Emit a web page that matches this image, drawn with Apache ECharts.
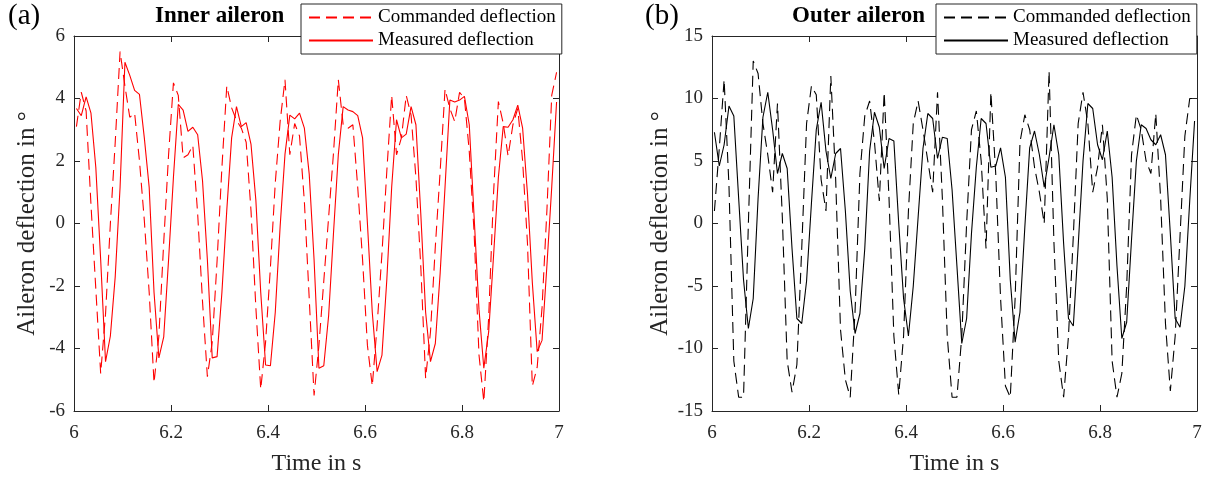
<!DOCTYPE html>
<html>
<head>
<meta charset="utf-8">
<script src="https://cdn.jsdelivr.net/npm/echarts@6/dist/echarts.min.js"></script>
<style>
html,body{margin:0;padding:0;background:#fff;}
#chart{width:1205px;height:481px;}
</style>
</head>
<body>
<div id="chart"></div>
<script>
// Sample times (s)
var time = [6.005,6.015,6.025,6.035,6.045,6.055,6.065,6.075,6.085,6.095,
  6.105,6.115,6.125,6.135,6.145,6.155,6.165,6.175,6.185,6.195,
  6.205,6.215,6.225,6.235,6.245,6.255,6.265,6.275,6.285,6.295,
  6.305,6.315,6.325,6.335,6.345,6.355,6.365,6.375,6.385,6.395,
  6.405,6.415,6.425,6.435,6.445,6.455,6.465,6.475,6.485,6.495,
  6.505,6.515,6.525,6.535,6.545,6.555,6.565,6.575,6.585,6.595,
  6.605,6.615,6.625,6.635,6.645,6.655,6.665,6.675,6.685,6.695,
  6.705,6.715,6.725,6.735,6.745,6.755,6.765,6.775,6.785,6.795,
  6.805,6.815,6.825,6.835,6.845,6.855,6.865,6.875,6.885,6.895,
  6.905,6.915,6.925,6.935,6.945,6.955,6.965,6.975,6.985,6.995];

// (a) Inner aileron (deg)
var innerCommanded = [3.1,4.2,3.6,0.6,-2.1,-4.8,-2.9,0.0,2.6,5.5,
  4.4,3.4,3.53,2.0,0.1,-2.2,-5.1,-3.6,-0.6,2.2,
  4.5,4.1,2.1,2.2,2.5,0.3,-2.5,-4.9,-3.8,-1.2,
  1.8,4.4,3.7,3.3,3.05,2.6,0.4,-2.7,-5.3,-3.8,
  -1.4,1.3,3.26,4.6,2.2,3.2,2.8,0.7,-2.4,-5.5,
  -3.9,-1.85,0.2,2.25,4.6,3.16,3.05,3.16,1.16,-1.16,
  -3.9,-5.2,-3.26,-0.95,1.68,4.1,2.2,2.74,4.1,3.47,
  1.47,-1.37,-4.95,-3.47,-0.74,1.68,4.3,3.68,3.26,4.2,
  4.0,2.3,-0.3,-4.2,-5.7,-3.0,0.95,3.9,3.2,2.16,
  3.16,3.68,2.0,-0.63,-5.2,-4.6,-2.7,0.4,4.1,4.84];
var innerMeasured = [3.68,3.45,4.05,3.53,1.79,-1.16,-4.42,-3.6,-1.7,1.16,
  5.16,4.74,4.26,4.13,2.74,1.16,-2.2,-4.3,-3.63,-1.16,
  1.47,3.81,3.63,2.95,3.08,2.84,1.37,-1.16,-4.3,-4.26,
  -2.2,0.42,2.74,3.74,3.1,3.23,2.53,0.74,-2.2,-4.53,
  -4.55,-2.84,-0.1,2.21,3.47,3.35,3.53,3.05,1.58,-1.16,
  -4.63,-4.55,-2.95,-0.32,2.21,3.74,3.63,3.58,3.45,2.74,
  0.0,-2.84,-4.74,-4.21,-1.79,1.16,3.32,2.74,2.86,3.74,
  3.16,0.32,-2.84,-4.42,-3.84,-1.58,1.16,3.95,3.89,3.95,
  4.07,3.16,0.21,-2.74,-4.63,-3.47,-1.05,1.47,3.1,3.08,
  3.32,3.79,3.05,0.95,-1.89,-4.1,-3.74,-1.37,1.16,3.89];

// (b) Outer aileron (deg)
var outerCommanded = [1.0,6.0,11.5,3.0,-11.0,-13.9,-13.9,0.0,13.0,12.0,
  8.0,5.5,2.5,9.6,0.5,-11.0,-13.5,-11.3,-2.0,8.0,
  11.0,10.3,3.5,1.0,11.8,3.5,-8.5,-12.5,-13.9,-7.0,
  4.0,8.6,9.8,6.5,1.8,10.5,2.0,-9.0,-13.7,-9.0,
  1.0,8.0,9.8,7.5,5.0,2.5,10.5,2.0,-9.0,-13.9,
  -13.9,-9.0,0.0,7.5,9.0,5.0,-2.0,10.5,4.0,-6.0,
  -13.0,-13.9,-6.0,6.5,8.7,7.5,4.5,2.5,0.0,12.2,
  -1.5,-11.0,-13.9,-9.0,-1.0,8.0,10.5,8.0,2.5,4.5,
  7.9,2.0,-11.0,-13.9,-12.0,-5.0,5.5,8.7,7.5,5.0,
  4.0,8.8,2.0,-8.0,-13.4,-9.0,-1.0,7.0,10.0,10.0];
var outerMeasured = [7.3,4.6,6.3,9.4,8.6,2.0,-4.5,-8.4,-6.0,2.0,
  8.5,10.5,7.5,4.0,5.6,4.4,-2.0,-7.6,-8.0,-4.6,
  1.6,7.5,9.7,5.8,3.6,5.6,6.0,1.0,-5.4,-8.8,
  -7.2,-2.0,5.8,8.9,7.7,4.4,6.8,6.6,0.0,-6.0,
  -9.0,-5.0,0.5,6.0,8.8,8.4,5.2,6.9,6.8,2.7,
  -3.4,-9.6,-7.6,-0.8,4.5,8.4,8.0,4.5,4.6,6.05,
  3.7,-4.5,-9.5,-7.1,-0.3,6.05,7.4,5.5,2.9,5.3,
  7.9,5.5,-1.6,-7.6,-8.2,-1.8,5.0,9.6,9.2,6.3,
  5.1,7.4,3.7,-3.4,-9.2,-7.9,-1.3,5.0,7.9,7.6,
  6.7,6.3,7.1,5.5,-0.8,-7.6,-8.3,-5.0,1.8,8.2];

var xTicks = {min: 6, max: 7, interval: 0.2};
var innerY = {min: -6, max: 6, interval: 2};
var outerY = {min: -15, max: 15, interval: 5};
var seriesNames = ['Commanded deflection', 'Measured deflection'];

function pairs(t, v) { return t.map(function (x, i) { return [x, v[i]]; }); }

var FONT = 'Liberation Serif';
var AX = '#262626';

function xAxis(grid, top) {
  return {
    type: 'value', gridIndex: grid, position: top ? 'top' : 'bottom',
    min: xTicks.min, max: xTicks.max, interval: xTicks.interval,
    axisLine: {show: true, onZero: false, lineStyle: {color: AX, width: 1}},
    axisTick: {show: true, inside: true, length: 6, lineStyle: {color: AX}},
    splitLine: {show: false},
    axisLabel: top ? {show: false} : {
      show: true, color: AX, fontFamily: FONT, fontSize: 19, margin: 13,
      formatter: function (v) { var r = Math.round(v * 10) / 10; return (r % 1 === 0) ? String(r) : r.toFixed(1); }
    },
    name: top ? '' : 'Time in s', nameLocation: 'middle', nameGap: 41,
    nameTextStyle: {color: AX, fontFamily: FONT, fontSize: 24}
  };
}
function yAxis(grid, right, rng, gap) {
  return {
    type: 'value', gridIndex: grid, position: right ? 'right' : 'left',
    min: rng.min, max: rng.max, interval: rng.interval,
    axisLine: {show: true, onZero: false, lineStyle: {color: AX, width: 1}},
    axisTick: {show: true, inside: true, length: 6, lineStyle: {color: AX}},
    splitLine: {show: false},
    axisLabel: right ? {show: false} : {show: true, color: AX, fontFamily: FONT, fontSize: 19, margin: 9},
    name: right ? '' : 'Aileron deflection in °', nameLocation: 'middle', nameGap: gap,
    nameTextStyle: {color: AX, fontFamily: FONT, fontSize: 25}
  };
}
function line(name, xi, yi, data, color, dashed) {
  return {
    type: 'line', name: name, xAxisIndex: xi, yAxisIndex: yi, data: data,
    showSymbol: false, symbol: 'none', animation: false, clip: true,
    lineStyle: {color: color, width: 1.1, type: dashed ? [11, 6] : 'solid'},
    itemStyle: {color: color}
  };
}
function legend(left, names) {
  return {
    data: names, orient: 'vertical', left: left, top: 4,
    itemWidth: 64, itemHeight: 14, itemGap: 4,
    padding: [4, 6, 4, 7],
    borderColor: AX, borderWidth: 1, backgroundColor: '#fff',
    selectedMode: false,
    itemStyle: {opacity: 0},
    formatter: function (n) { return n.replace(' (b)', ''); },
    textStyle: {color: '#000', fontFamily: FONT, fontSize: 19}
  };
}

var chart = echarts.init(document.getElementById('chart'), null, {renderer: 'canvas'});
chart.setOption({
  animation: false,
  backgroundColor: '#fff',
  grid: [
    {left: 74, right: 646, top: 36, bottom: 64},
    {left: 712, right: 8, top: 36, bottom: 64}
  ],
  xAxis: [xAxis(0, false), xAxis(0, true), xAxis(1, false), xAxis(1, true)],
  yAxis: [yAxis(0, false, innerY, 34), yAxis(0, true, innerY, 0), yAxis(1, false, outerY, 39), yAxis(1, true, outerY, 0)],
  legend: [
    legend(301, seriesNames),
    legend(936, seriesNames.map(function (n) { return n + ' (b)'; }))
  ],
  series: [
    line(seriesNames[0], 0, 0, pairs(time, innerCommanded), '#ff0000', true),
    line(seriesNames[1], 0, 0, pairs(time, innerMeasured), '#ff0000', false),
    line(seriesNames[0] + ' (b)', 2, 2, pairs(time, outerCommanded), '#000000', true),
    line(seriesNames[1] + ' (b)', 2, 2, pairs(time, outerMeasured), '#000000', false)
  ],
  graphic: [
    {type: 'text', left: 8, top: 2, style: {text: '(a)', fontFamily: FONT, fontSize: 29, fill: '#000'}},
    {type: 'text', left: 645, top: 2, style: {text: '(b)', fontFamily: FONT, fontSize: 29, fill: '#000'}},
    {type: 'text', left: 155, top: 5, style: {text: 'Inner aileron', fontFamily: FONT, fontSize: 23, fontWeight: 'bold', fill: '#000'}},
    {type: 'text', left: 792, top: 5, style: {text: 'Outer aileron', fontFamily: FONT, fontSize: 23, fontWeight: 'bold', fill: '#000'}}
  ]
});
</script>
</body>
</html>
